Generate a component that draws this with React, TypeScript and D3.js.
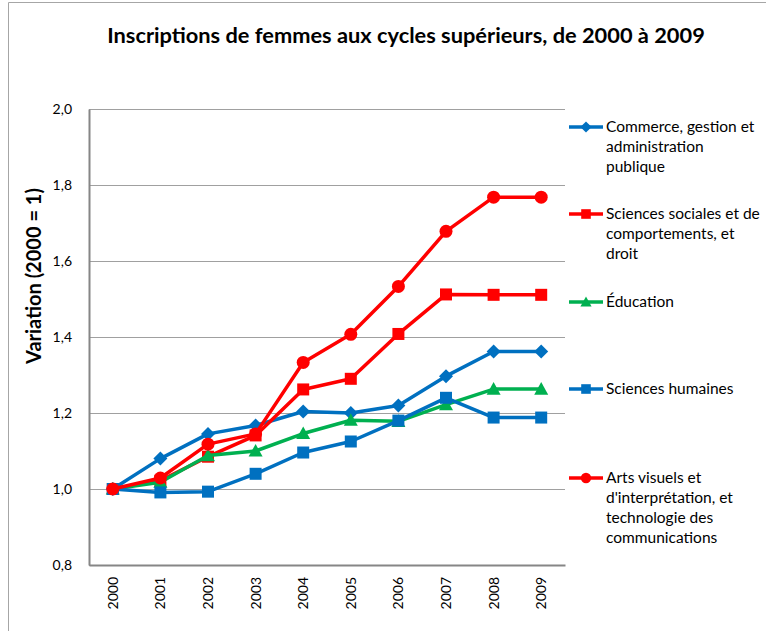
import React, { useEffect, useRef } from "react";
import * as d3 from "d3";

const years = ["2000", "2001", "2002", "2003", "2004", "2005", "2006", "2007", "2008", "2009"];

const commerce = [1.0, 1.08, 1.145, 1.167, 1.204, 1.2, 1.22, 1.297, 1.362, 1.362];
const sciencesSociales = [1.0, 1.022, 1.085, 1.141, 1.262, 1.29, 1.408, 1.512, 1.511, 1.511];
const education = [1.0, 1.018, 1.088, 1.1, 1.146, 1.181, 1.178, 1.222, 1.263, 1.263];
const sciencesHumaines = [1.0, 0.991, 0.993, 1.04, 1.096, 1.125, 1.18, 1.24, 1.188, 1.188];
const artsVisuels = [1.0, 1.029, 1.118, 1.145, 1.333, 1.407, 1.533, 1.678, 1.768, 1.768];

const yTicks = [0.8, 1.0, 1.2, 1.4, 1.6, 1.8, 2.0];

const series = [
  { name: ["Commerce, gestion et", "administration", "publique"], values: commerce, color: "#0070C0", marker: "diamond" },
  { name: ["Sciences sociales et de", "comportements, et", "droit"], values: sciencesSociales, color: "#FF0000", marker: "square" },
  { name: ["Éducation"], values: education, color: "#00B050", marker: "triangle" },
  { name: ["Sciences humaines"], values: sciencesHumaines, color: "#0070C0", marker: "square" },
  { name: ["Arts visuels et", "d'interprétation, et", "technologie des", "communications"], values: artsVisuels, color: "#FF0000", marker: "circle" },
];

const FONT = "Lato, 'Open Sans', sans-serif";

const App = () => {
  const ref = useRef<SVGSVGElement>(null);

  useEffect(() => {
    const svg = d3.select(ref.current);
    svg.selectAll("*").remove();

    const height = 631;
    const plot = { left: 89, right: 565, top: 109, bottom: 565 };

    // outer chart border (left and top visible)
    svg
      .append("path")
      .attr("d", `M8.5,${height} L8.5,2.5 L766,2.5`)
      .attr("fill", "none")
      .attr("stroke", "#a6a6a6")
      .attr("stroke-width", 1);

    svg
      .append("text")
      .attr("x", 406)
      .attr("y", 43)
      .attr("text-anchor", "middle")
      .attr("font-family", FONT)
      .attr("font-weight", "bold")
      .attr("font-size", 21.8)
      .text("Inscriptions de femmes aux cycles supérieurs, de 2000 à 2009");

    const x = d3.scaleBand().domain(years).range([plot.left, plot.right]);
    const y = d3.scaleLinear().domain([0.8, 2.0]).range([plot.bottom, plot.top]);

    // gridlines
    svg
      .append("g")
      .selectAll("line")
      .data(yTicks)
      .join("line")
      .attr("x1", plot.left)
      .attr("x2", plot.right)
      .attr("y1", (d) => Math.round(y(d)) + 0.5)
      .attr("y2", (d) => Math.round(y(d)) + 0.5)
      .attr("stroke", "#a0a0a0")
      .attr("stroke-width", 1);

    // y axis
    const yAxis = svg
      .append("g")
      .attr("transform", `translate(${plot.left},0)`)
      .call(
        d3
          .axisLeft(y)
          .tickValues(yTicks)
          .tickSize(0)
          .tickPadding(17)
          .tickFormat((d) => d3.format(".1f")(d as number).replace(".", ","))
      );
    yAxis.select(".domain").attr("stroke", "#868686").attr("stroke-width", 2);
    yAxis.selectAll("text").attr("font-family", FONT).attr("font-size", 14).attr("fill", "#000");

    // x axis
    const xAxis = svg
      .append("g")
      .attr("transform", `translate(0,${plot.bottom})`)
      .call(d3.axisBottom(x).tickSize(0).tickPadding(0));
    xAxis.select(".domain").attr("stroke", "#868686").attr("stroke-width", 2);
    xAxis
      .selectAll("text")
      .attr("font-family", FONT)
      .attr("font-size", 14)
      .attr("fill", "#000")
      .attr("text-anchor", "end")
      .attr("dy", "0.35em")
      .attr("transform", "translate(0,12) rotate(-90)");

    // y axis title
    svg
      .append("text")
      .attr("transform", "translate(41,276) rotate(-90)")
      .attr("text-anchor", "middle")
      .attr("font-family", FONT)
      .attr("font-weight", "bold")
      .attr("font-size", 20)
      .text("Variation (2000 = 1)");

    const cx = (i: number) => (x(years[i]) as number) + x.bandwidth() / 2;

    const drawMarker = (g: any, type: string, color: string, px: number, py: number, small: boolean) => {
      const s = small ? 0.8 : 1;
      if (type === "diamond") {
        const r = 7 * s;
        g.append("path")
          .attr("d", `M${px},${py - r} L${px + r},${py} L${px},${py + r} L${px - r},${py} Z`)
          .attr("fill", color);
      } else if (type === "square") {
        const r = 6 * s;
        g.append("rect")
          .attr("x", px - r)
          .attr("y", py - r)
          .attr("width", 2 * r)
          .attr("height", 2 * r)
          .attr("fill", color);
      } else if (type === "triangle") {
        const r = 7 * s;
        g.append("path")
          .attr("d", `M${px},${py - r} L${px + r},${py + r * 0.8} L${px - r},${py + r * 0.8} Z`)
          .attr("fill", color);
      } else {
        g.append("circle").attr("cx", px).attr("cy", py).attr("r", 6.5 * s).attr("fill", color);
      }
    };

    const line = d3
      .line<number>()
      .x((_, i) => cx(i))
      .y((d) => y(d));

    series.forEach((s) => {
      const g = svg.append("g");
      g.append("path")
        .datum(s.values)
        .attr("fill", "none")
        .attr("stroke", s.color)
        .attr("stroke-width", 3.5)
        .attr("stroke-linejoin", "round")
        .attr("d", line);
      s.values.forEach((v, i) => drawMarker(g, s.marker, s.color, cx(i), y(v), false));
    });

    // legend
    const legendY = [127, 214, 302, 389, 478];
    series.forEach((s, k) => {
      const g = svg.append("g");
      const ly = legendY[k];
      g.append("line")
        .attr("x1", 569)
        .attr("x2", 603)
        .attr("y1", ly)
        .attr("y2", ly)
        .attr("stroke", s.color)
        .attr("stroke-width", 3.5);
      drawMarker(g, s.marker, s.color, 586, ly, true);
      s.name.forEach((t, j) => {
        g.append("text")
          .attr("x", 606)
          .attr("y", ly + j * 20)
          .attr("dy", "0.35em")
          .attr("font-family", FONT)
          .attr("font-size", 15.5)
          .attr("fill", "#000")
          .text(t);
      });
    });
  }, []);

  return (
    <div style={{ position: "absolute", left: 0, top: 0 }}>
      <svg ref={ref} width={783} height={631} style={{ display: "block", background: "#fff" }} />
    </div>
  );
};

export default App;
